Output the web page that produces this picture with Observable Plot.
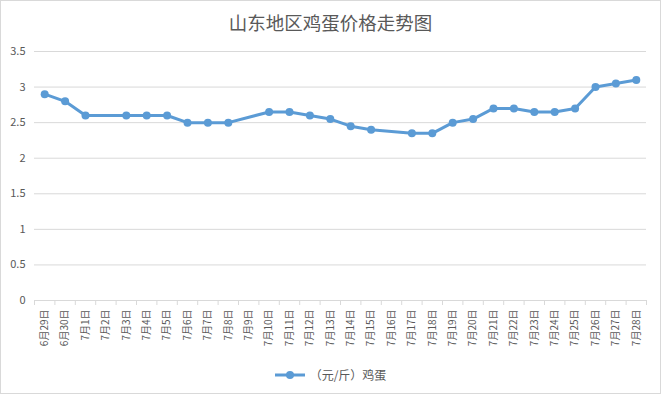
<!DOCTYPE html>
<html>
<head>
<meta charset="utf-8">
<script src="https://cdn.jsdelivr.net/npm/d3@7"></script>
<script src="https://cdn.jsdelivr.net/npm/@observablehq/plot@0.6"></script>
<style>
  html, body { margin: 0; padding: 0; background: #fff; overflow: hidden; }
  #wrap { position: relative; width: 661px; height: 394px; background: #fff;
    font-family: "Noto Sans CJK SC", "Noto Sans", sans-serif; color: #595959; }
  #frame { position: absolute; left: 0; top: 0; width: 661px; height: 394px; box-sizing: border-box;
    border: 1px solid #d9d9d9; pointer-events: none; }
  #title { height: 40px; box-sizing: border-box; padding-top: 10px; line-height: 24px;
    font-size: 18.5px; text-align: center; color: #595959; }
  #chart svg { display: block; }
  #legend { height: 39px; display: flex; align-items: center; justify-content: center;
    font-size: 12px; color: #595959; }
  #legend svg { margin-right: 5px; }
</style>
</head>
<body>
<div id="wrap">
  <div id="title"></div>
  <div id="chart"></div>
  <div id="legend"></div>
  <div id="frame"></div>
</div>
<script>
const title = "山东地区鸡蛋价格走势图";
const seriesName = "（元/斤）鸡蛋";
const dates = ["6月29日","6月30日","7月1日","7月2日","7月3日","7月4日","7月5日","7月6日","7月7日","7月8日",
  "7月9日","7月10日","7月11日","7月12日","7月13日","7月14日","7月15日","7月16日","7月17日","7月18日",
  "7月19日","7月20日","7月21日","7月22日","7月23日","7月24日","7月25日","7月26日","7月27日","7月28日"];
const prices = [2.9, 2.8, 2.6, null, 2.6, 2.6, 2.6, 2.5, 2.5, 2.5,
  null, 2.65, 2.65, 2.6, 2.55, 2.45, 2.4, null, 2.35, 2.35,
  2.5, 2.55, 2.7, 2.7, 2.65, 2.65, 2.7, 3.0, 3.05, 3.1];
const yTicks = [0, 0.5, 1, 1.5, 2, 2.5, 3, 3.5];

const color = "#5B9BD5";
const grid = "#d9d9d9";

const data = dates.map((d, i) => ({i, date: d, price: prices[i]})).filter(d => d.price != null);
const centers = dates.map((d, i) => i);
const bounds = d3.range(dates.length + 1).map(i => i - 0.5);

const chart = Plot.plot({
  width: 661,
  height: 315,
  marginTop: 11,
  marginBottom: 55,
  marginLeft: 34,
  marginRight: 15,
  style: {color: "#595959", fontFamily: "'Noto Sans CJK SC', 'Noto Sans', sans-serif", background: "transparent"},
  x: {type: "linear", domain: [-0.5, dates.length - 0.5], label: null},
  y: {domain: [0, 3.5], label: null},
  marks: [
    Plot.gridY(yTicks, {stroke: grid, strokeOpacity: 1}),
    Plot.axisX(bounds, {tickSize: 5, text: null, stroke: grid, strokeOpacity: 1, label: null}),
    Plot.axisX(centers, {tickSize: 0, tickPadding: 9, tickRotate: -90, tickFormat: i => dates[i], fontSize: 10, label: null}),
    Plot.axisY(yTicks, {tickSize: 0, tickPadding: 9, tickFormat: d => String(d), fontSize: 11, label: null}),
    Plot.line(data, {x: "i", y: "price", stroke: color, strokeWidth: 3}),
    Plot.dot(data, {x: "i", y: "price", r: 4, fill: color, stroke: "none"})
  ]
});
document.getElementById("chart").appendChild(chart);

document.getElementById("title").textContent = title;
const legend = document.getElementById("legend");
legend.innerHTML = `<svg width="30" height="10"><line x1="0" y1="5" x2="30" y2="5" stroke="${color}" stroke-width="3"/><circle cx="15" cy="5" r="4" fill="${color}"/></svg><span>${seriesName}</span>`;
</script>
</body>
</html>
